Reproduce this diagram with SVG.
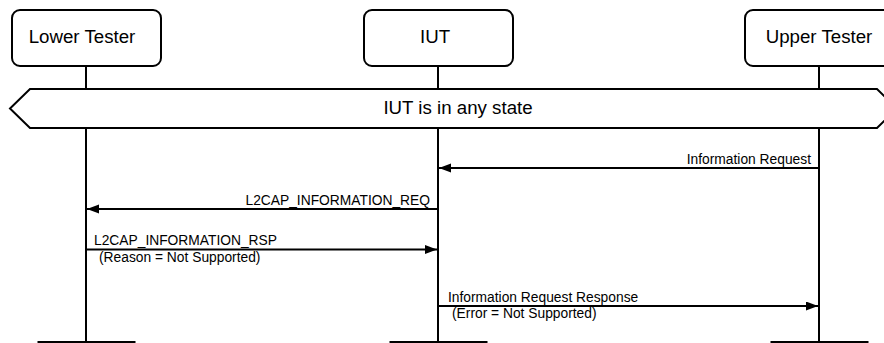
<svg xmlns="http://www.w3.org/2000/svg" width="884" height="343" viewBox="0 0 884 343">
<style>
text{font-family:"Liberation Sans",Arial,sans-serif;fill:#000}
.hdr{font-size:18.7px;text-anchor:middle}
.msg{font-size:13.8px}
.box{fill:#fff;stroke:#000;stroke-width:2}
.life{stroke:#000;stroke-width:2;fill:none}
.arrow{stroke:#000;stroke-width:2;fill:none;marker-end:url(#ah)}
.bar{fill:#000}
</style>
<defs>
<marker id="ah" markerUnits="userSpaceOnUse" markerWidth="13" markerHeight="10" refX="12" refY="4.5" orient="auto">
<path d="M0,0 L12,4.5 L0,9 z" fill="#000"/>
</marker>
</defs>
<rect width="884" height="343" fill="#fff"/>
<g id="lifelines">
<line class="life" x1="86" y1="66" x2="86" y2="343"/>
<line class="life" x1="438" y1="66" x2="438" y2="343"/>
<line class="life" x1="819" y1="66" x2="819" y2="343"/>
<rect class="bar" x="37.5" y="341" width="98" height="3"/>
<rect class="bar" x="389.5" y="341" width="98" height="3"/>
<rect class="bar" x="770.5" y="341" width="98" height="3"/>
</g>
<g id="lower-tester">
<rect class="box" x="12" y="10" width="149" height="56" rx="8"/>
<text class="hdr" x="82" y="43">Lower Tester</text>
</g>
<g id="iut">
<rect class="box" x="364" y="10" width="149" height="56" rx="8"/>
<text class="hdr" x="435" y="43">IUT</text>
</g>
<g id="upper-tester">
<rect class="box" x="745" y="10" width="149" height="56" rx="8"/>
<text class="hdr" x="819" y="43">Upper Tester</text>
</g>
<g id="state">
<polygon class="box" points="30,89 877,89 897,108.5 877,128 30,128 10,108.5"/>
<text class="hdr" x="458" y="114">IUT is in any state</text>
</g>
<g id="connectors">
<line class="arrow" x1="819" y1="168" x2="439" y2="168"/>
<text class="msg" x="811" y="164" text-anchor="end">Information Request</text>
<line class="arrow" x1="438" y1="209" x2="87" y2="209"/>
<text class="msg" x="430" y="205" text-anchor="end">L2CAP_INFORMATION_REQ</text>
<line class="arrow" x1="86" y1="249.5" x2="437" y2="249.5"/>
<text class="msg" x="94" y="245">L2CAP_INFORMATION_RSP</text>
<text class="msg" x="99" y="262">(Reason = Not Supported)</text>
<line class="arrow" x1="438" y1="306" x2="818" y2="306"/>
<text class="msg" x="448" y="302">Information Request Response</text>
<text class="msg" x="452" y="318">(Error = Not Supported)</text>
</g>
</svg>
